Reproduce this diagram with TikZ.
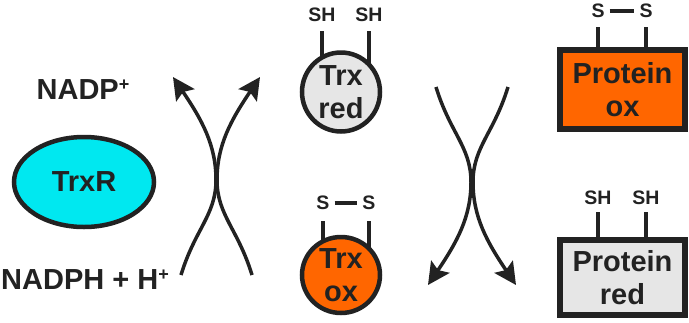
\documentclass[tikz,border=0pt]{standalone}
\usepackage{fontspec}
\setmainfont{Liberation Sans}
\usetikzlibrary{arrows.meta, positioning, shapes.geometric, backgrounds}
\definecolor{ink}{HTML}{222222}
\definecolor{oxfill}{HTML}{FF6600}
\definecolor{redfill}{HTML}{E6E6E6}
\definecolor{enzfill}{HTML}{00E8F0}
\newcommand{\bigtxt}{\fontsize{29}{33}\selectfont\bfseries}
\newcommand{\grptxt}{\fontsize{19.5}{19.5}\selectfont\bfseries}
\newcommand{\plusup}{\raisebox{9pt}{\fontsize{18}{18}\selectfont +}}
\tikzset{
  >={Stealth[length=22pt, width=22pt, inset=4pt]},
  %
  mol/.style={ellipse, draw=ink, line width=4.5pt, text=ink, align=center,
              font=\bigtxt, inner sep=0pt},
  prot/.style={rectangle, draw=ink, line width=6pt, text=ink, align=center,
               font=\bigtxt, inner sep=0pt, minimum width=125pt},
  chem/.style={text=ink, font=\bigtxt, inner sep=0pt},
  grp/.style={text=ink, font=\grptxt, inner sep=0pt},
  %
  stem/.style={draw=ink, line width=4pt},
  bond/.style={draw=ink, line width=4pt, shorten <=5pt, shorten >=5pt},
  swing/.style={draw=ink, line width=3.5pt, ->},
}
\begin{document}
\begin{tikzpicture}[x=1pt, y=-1pt]
\useasboundingbox (0,0) rectangle (689,322);

% =========================================================================
% LEFT: TrxR and NADPH
% =========================================================================
\node[mol, fill=enzfill, minimum width=140pt, minimum height=90pt] (trxr) at (84,182) {TrxR};
\node[chem, anchor=base] (nadp) at (83,99) {NADP\plusup};
\node[chem, anchor=base west] (nadph) at (1,289) {NADPH + H\plusup};

% =========================================================================
% MIDDLE: thioredoxin
% =========================================================================
\node[mol, fill=redfill, minimum width=78pt, minimum height=79pt] (trxred) at (341,92) {Trx\\red};
\node[grp] (redsh1) at (322,15) {SH};
\node[grp] (redsh2) at (369,15) {SH};

\node[mol, fill=oxfill, minimum width=78pt, minimum height=76pt] (trxox) at (341,275) {Trx\\ox};
\node[grp] (oxs1) at (323,203) {S};
\node[grp] (oxs2) at (369,203) {S};
\draw[bond] (oxs1.east) -- (oxs2.west);

% =========================================================================
% RIGHT: target protein
% =========================================================================
\node[prot, fill=oxfill, minimum height=79pt] (protox) at (622.5,89.5) {Protein\\ox};
\node[grp] (poxs1) at (598,11) {S};
\node[grp] (poxs2) at (646,11) {S};
\draw[bond] (poxs1.east) -- (poxs2.west);

\node[prot, fill=redfill, minimum height=75pt] (protred) at (622.5,277.5) {Protein\\red};
\node[grp] (predsh1) at (598,198) {SH};
\node[grp] (predsh2) at (646,198) {SH};

% the stems run under the fills
\begin{scope}[on background layer]
  \draw[stem, shorten <=9pt] (redsh1.south) -- (redsh1.south |- trxred.center);
  \draw[stem, shorten <=9pt] (redsh2.south) -- (redsh2.south |- trxred.center);
  \draw[stem, shorten <=11pt] (oxs1.south) -- (oxs1.south |- trxox.center);
  \draw[stem, shorten <=11pt] (oxs2.south) -- (oxs2.south |- trxox.center);
  \draw[stem, shorten <=9pt] (poxs1.south) -- (poxs1.south |- protox.center);
  \draw[stem, shorten <=9pt] (poxs2.south) -- (poxs2.south |- protox.center);
  \draw[stem, shorten <=7pt] (predsh1.south) -- (predsh1.south |- protred.center);
  \draw[stem, shorten <=7pt] (predsh2.south) -- (predsh2.south |- protred.center);
\end{scope}

% =========================================================================
% coupled arrows
% =========================================================================
\coordinate (Astart) at (181,275); \coordinate (Awaist) at (216,180); \coordinate (Aend) at (173,77);
\coordinate (Bstart) at (252,275); \coordinate (Bwaist) at (217,180); \coordinate (Bend) at (260,77);
\coordinate (Cstart) at (436,87);  \coordinate (Cwaist) at (471,182); \coordinate (Cend) at (428,285);
\coordinate (Dstart) at (508,87);  \coordinate (Dwaist) at (473,182); \coordinate (Dend) at (516,285);

\draw[swing] (Astart) .. controls +(14,-46) and +(0,35) .. (Awaist)
             .. controls +(0,-35) and +(29,43) .. (Aend);
\draw[swing] (Bstart) .. controls +(-14,-46) and +(0,35) .. (Bwaist)
             .. controls +(0,-35) and +(-29,43) .. (Bend);
\draw[swing] (Cstart) .. controls +(14,46) and +(0,-35) .. (Cwaist)
             .. controls +(0,35) and +(29,-43) .. (Cend);
\draw[swing] (Dstart) .. controls +(-14,46) and +(0,-35) .. (Dwaist)
             .. controls +(0,35) and +(-29,-43) .. (Dend);

\end{tikzpicture}
\end{document}
